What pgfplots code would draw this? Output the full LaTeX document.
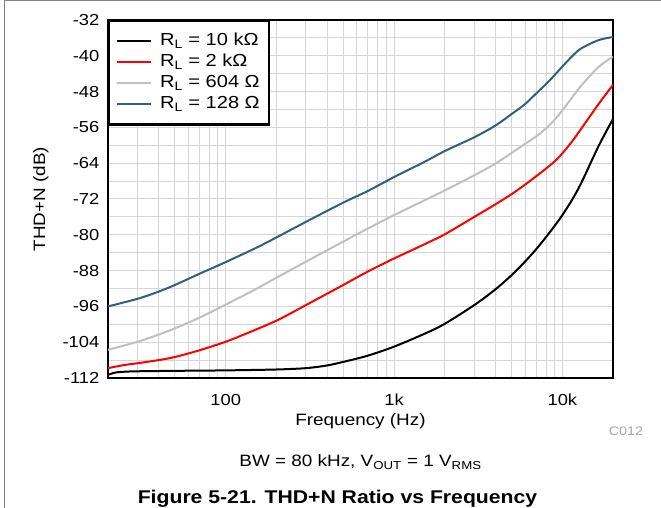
\documentclass[border=0pt]{standalone}
\usepackage{fontspec}
\setmainfont{Liberation Sans}[FakeStretch=1.15]
\usepackage{pgfplots}
\pgfplotsset{compat=1.18}
\definecolor{cblue}{HTML}{2F617C}
\definecolor{cgray}{HTML}{BFBFBF}
\definecolor{cred}{HTML}{FF0000}
\definecolor{cgrid}{HTML}{D6D6D6}
\definecolor{cframe}{HTML}{808080}
\begin{document}
\begin{tikzpicture}[x=1bp,y=1bp]
\path[use as bounding box] (0,0) rectangle (661,508);
\draw[cframe, line width=1.2bp] (4.5,0) -- (4.5,507.4) -- (661,507.4);
\begin{axis}[
  at={(108bp,130bp)}, anchor=south west,
  scale only axis, width=505bp, height=358bp,
  xmode=log, xmin=20, xmax=20000,
  ymin=-112, ymax=-32,
  ytick={-112,-104,...,-32},
  minor ytick={-108,-100,...,-36},
  xtick={100,1000,10000}, xticklabels={100,1k,10k},
  minor xtick={20,30,40,50,60,70,80,90,200,300,400,500,600,700,800,900,2000,3000,4000,5000,6000,7000,8000,9000},
  grid=both,
  major grid style={cgrid, line width=1bp},
  minor grid style={cgrid, line width=1bp},
  major tick length=0pt, minor tick length=0pt,
  axis line style={line width=2.5bp, black},
  /pgf/number format/assume math mode=true,
  yticklabel style={font=\fontsize{16}{19}\selectfont, anchor=east, inner sep=0pt, xshift=-8.5bp},
  xticklabel style={font=\fontsize{16}{19}\selectfont, anchor=center, inner sep=0pt, yshift=-22bp},
  xlabel={Frequency (Hz)},
  xlabel style={font=\fontsize{16.5}{19}\selectfont, at={(axis description cs:0.5,-0.1201)}, anchor=center},
  ylabel={THD+N (dB)},
  ylabel style={font=\fontsize{16.5}{19}\selectfont, at={(axis description cs:-0.1327,0.5)}, anchor=center},
  legend cell align=left,
  legend image code/.code={\draw[#1] (0bp,0bp) -- (34bp,0bp);},
  legend style={at={(rel axis cs:0,1)}, anchor=north west, draw=black, line width=2.2bp, fill=white,
    font=\fontsize{17.5}{20}\selectfont, row sep=0.5bp, inner xsep=6.5bp, inner ysep=10bp,
    nodes={inner sep=2.5bp, text height=12bp, text depth=3.5bp},
    /tikz/every odd column/.append style={column sep=6bp}},
]
\addplot[black, line width=2bp, smooth] coordinates {
(20,-111.3) (22,-110.8) (25,-110.6) (30,-110.5) (50,-110.4) (100,-110.3) (200,-110.1) (300,-109.8)
(400,-109.2) (500,-108.4) (700,-107.0) (1000,-105.0) (1500,-102.2) (2000,-99.9) (3000,-95.7)
(4000,-92.2) (5000,-89.0) (6000,-86.0) (7000,-83.2) (8000,-80.5) (9000,-78.0) (10000,-75.6)
(11500,-72.0) (13000,-68.3) (16400,-60.2) (20000,-54.1)};
\addlegendentry{R\textsubscript{L} = 10 kΩ}
\addplot[cred, line width=2bp, smooth] coordinates {
(20,-109.8) (25,-109.1) (30,-108.7) (40,-108.0) (50,-107.3) (70,-105.8) (100,-103.9) (130,-102.2)
(200,-99.2) (300,-95.7) (500,-91.2) (700,-88.2) (1000,-85.3) (1500,-82.2) (2000,-79.9) (3000,-76.0)
(4000,-73.2) (5000,-70.9) (6000,-68.8) (7000,-66.9) (8000,-65.2) (9000,-63.6) (10000,-61.8)
(11500,-59.0) (13000,-56.2) (16400,-50.8) (20000,-46.5)};
\addlegendentry{R\textsubscript{L} = 2 kΩ}
\addplot[cgray, line width=2bp, smooth] coordinates {
(20,-105.7) (30,-103.9) (40,-102.3) (50,-100.9) (70,-98.5) (100,-95.6) (150,-92.2) (200,-89.6)
(300,-86.0) (500,-81.5) (700,-78.6) (1000,-75.6) (1500,-72.4) (2000,-70.1) (3000,-66.7) (4000,-64.1)
(5000,-61.7) (6000,-59.7) (7000,-58.0) (8000,-56.2) (9000,-54.3) (10000,-52.2) (11500,-49.2)
(13000,-46.6) (16400,-42.5) (20000,-40.2)};
\addlegendentry{R\textsubscript{L} = 604 Ω}
\addplot[cblue, line width=2bp, smooth] coordinates {
(20,-96.0) (30,-94.3) (40,-92.7) (50,-91.2) (70,-88.7) (100,-86.1) (150,-83.0) (200,-80.6)
(300,-77.1) (500,-72.8) (700,-70.2) (1000,-67.1) (1500,-63.8) (2000,-61.3) (3000,-58.2) (4000,-55.6)
(5000,-53.0) (6000,-50.8) (7000,-48.4) (8000,-46.3) (9000,-44.3) (10000,-42.4) (11500,-40.0)
(13000,-38.3) (16400,-36.5) (20000,-35.8)};
\addlegendentry{R\textsubscript{L} = 128 Ω}
\end{axis}
\node[anchor=base, font=\fontsize{12.5}{15}\selectfont, text=black!35] at (626,72.3) {C012};
\node[anchor=base, font=\fontsize{16.5}{20}\selectfont] at (360.5,41.3) {BW = 80 kHz, V\textsubscript{OUT} = 1 V\textsubscript{RMS}};
\node[anchor=base, font=\bfseries\fontsize{18.5}{22}\selectfont] at (337.5,4.7) {Figure 5-21. THD+N Ratio vs Frequency};
\end{tikzpicture}
\end{document}
